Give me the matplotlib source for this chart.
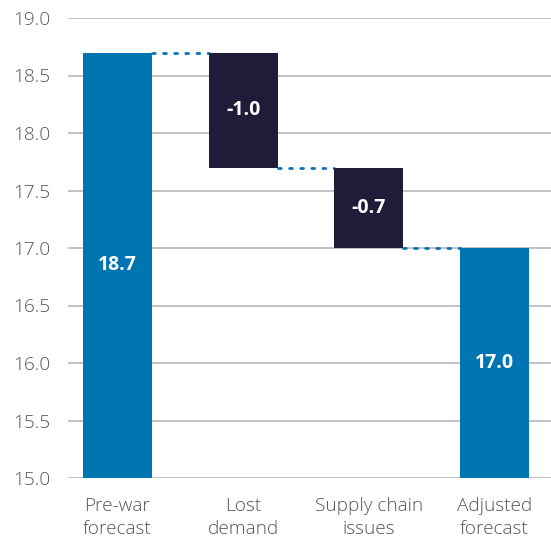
import matplotlib
matplotlib.use("Agg")
import matplotlib.pyplot as plt
import numpy as np

categories = ["Pre-war\nforecast", "Lost\ndemand", "Supply chain\nissues", "Adjusted\nforecast"]
values = [18.7, -1.0, -0.7, 17.0]
kinds = ["total", "delta", "delta", "total"]
labels = ["18.7", "-1.0", "-0.7", "17.0"]
y_ticks = [15.0, 15.5, 16.0, 16.5, 17.0, 17.5, 18.0, 18.5, 19.0]

BLUE = "#0075B2"
NAVY = "#1F1C3A"
BASE = 15.0

fig = plt.figure(figsize=(5.51, 5.42), dpi=100)
ax = fig.add_axes([68/551, 1-478/542, 1-68/551, (478-18)/542])

x = np.arange(len(categories))
width = 0.55
bottoms, tops = [], []
running = 0.0
for v, k in zip(values, kinds):
    if k == "total":
        bottoms.append(BASE); tops.append(v); running = v
    else:
        new = running + v
        bottoms.append(min(running, new)); tops.append(max(running, new)); running = new

for i, (b, t, k) in enumerate(zip(bottoms, tops, kinds)):
    ax.bar(x[i], t - b, bottom=b, width=width, color=BLUE if k == "total" else NAVY, zorder=3)
    ax.text(x[i], (b + t) / 2, labels[i], ha="center", va="center", color="white",
            fontsize=14, fontweight="bold", family=["Open Sans", "DejaVu Sans"], zorder=4)

# connectors
running = 0.0
levels = []
for v, k in zip(values, kinds):
    running = v if k == "total" else running + v
    levels.append(running)
for i in range(len(categories) - 1):
    ax.plot([x[i] + width/2, x[i+1] - width/2], [levels[i], levels[i]], linestyle=(0, (1, 3)),
            color=BLUE, lw=2, zorder=2, dash_capstyle="round")

ax.set_xlim(-0.394, 3.45)
ax.set_ylim(15.0, 19.0)
ax.set_yticks(y_ticks)
ax.set_yticklabels([f"{t:.1f}" for t in y_ticks])
ax.set_xticks(x)
ax.set_xticklabels(categories)
ax.grid(axis="y", color="#bdbdbd", lw=1.3, zorder=0)
ax.set_axisbelow(True)
for s in ax.spines.values():
    s.set_visible(False)
ax.tick_params(axis="y", length=0, pad=13, labelsize=13.7, labelcolor="#555555")
ax.tick_params(axis="x", length=0, pad=14, labelsize=13.7, labelcolor="#555555")
for lab in ax.get_xticklabels() + ax.get_yticklabels():
    lab.set_family(["Open Sans", "DejaVu Sans"])
    lab.set_fontweight("light")
    lab.set_linespacing(1.3)

fig.savefig("out.png", dpi=100)
